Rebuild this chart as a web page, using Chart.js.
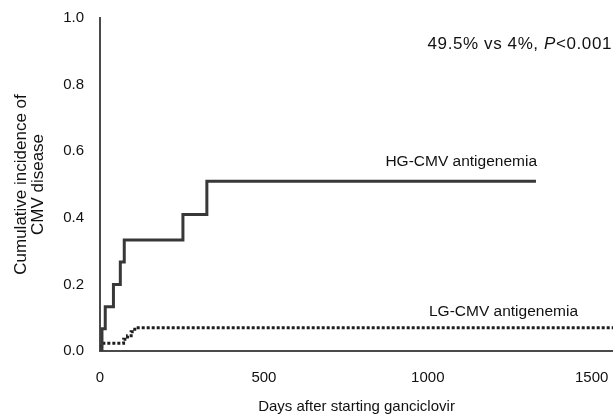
<!DOCTYPE html>
<html><head><meta charset="utf-8">
<script src="https://cdn.jsdelivr.net/npm/chart.js@4/dist/chart.umd.min.js"></script>
<style>html,body{margin:0;padding:0;background:#fff}#wrap{width:613px;height:420px}</style>
</head><body><div id="wrap"><canvas id="c" width="613" height="420"></canvas></div>
<script>
const HG_DAYS = [0, 6, 16, 41, 62, 74, 253, 326, 1330];
const HG_VALUES = [0, 0.067, 0.133, 0.2, 0.267, 0.333, 0.41, 0.51, 0.51];
const LG_DAYS = [0, 5, 72, 84, 95, 106, 1565];
const LG_VALUES = [0, 0.023, 0.035, 0.046, 0.058, 0.07, 0.07];
const X_TICKS = [0, 500, 1000, 1500];
const Y_TICKS = [0, 0.2, 0.4, 0.6, 0.8, 1.0];
const SERIES_NAMES = ['HG-CMV antigenemia', 'LG-CMV antigenemia'];
const X_TITLE = 'Days after starting ganciclovir';
const Y_TITLE = ['Cumulative incidence of', 'CMV disease'];
const ANNOTATION = [['49.5% vs 4%, ', false], ['P', true], ['<0.001', false]];

const FONT = '"Liberation Sans", Arial, Helvetica, sans-serif';
const TEXT_COLOR = '#111111';

const toPoints = (xs, ys) => xs.map((x, i) => ({x: x, y: ys[i]}));

const textPlugin = {
  id: 'texts',
  afterDraw(chart) {
    const ctx = chart.ctx;
    ctx.save();
    ctx.fillStyle = TEXT_COLOR;
    ctx.textBaseline = 'middle';
    ctx.font = '15.5px ' + FONT;
    ctx.textAlign = 'right';
    ctx.fillText(SERIES_NAMES[0], 537, 162);
    ctx.fillText(SERIES_NAMES[1], 578, 312);
    // annotation, right aligned
    ctx.letterSpacing = '0.6px';
    const fonts = ANNOTATION.map(p => (p[1] ? 'italic ' : '') + '17px ' + FONT);
    let total = 0;
    const widths = ANNOTATION.map((p, i) => { ctx.font = fonts[i]; const w = ctx.measureText(p[0]).width; total += w; return w; });
    let x = 612 - total;
    ctx.textAlign = 'left';
    ANNOTATION.forEach((p, i) => { ctx.font = fonts[i]; ctx.fillText(p[0], x, 44); x += widths[i]; });
    ctx.restore();
  }
};

new Chart(document.getElementById('c'), {
  type: 'line',
  data: {
    datasets: [
      {
        label: SERIES_NAMES[0],
        data: toPoints(HG_DAYS, HG_VALUES),
        stepped: true,
        borderColor: '#383838',
        borderWidth: 3,
        pointRadius: 0,
        fill: false
      },
      {
        label: SERIES_NAMES[1],
        data: toPoints(LG_DAYS, LG_VALUES),
        stepped: true,
        borderColor: '#1e1e1e',
        borderWidth: 3,
        borderDash: [3, 2],
        pointRadius: 0,
        fill: false
      }
    ]
  },
  options: {
    responsive: false,
    devicePixelRatio: 1,
    animation: false,
    layout: {padding: {top: 18, right: 0, bottom: 0, left: 0}},
    plugins: {legend: {display: false}, tooltip: {enabled: false}},
    scales: {
      x: {
        type: 'linear',
        min: 0,
        max: 1565,
        grid: {display: false, drawTicks: false},
        border: {display: true, color: '#4a4a4a', width: 2},
        afterBuildTicks: s => { s.ticks = X_TICKS.map(v => ({value: v})); },
        afterFit: s => { s.height = 69; s.paddingLeft = 0; s.paddingRight = 0; },
        ticks: {
          padding: 18,
          color: TEXT_COLOR,
          font: {family: FONT, size: 15},
          maxRotation: 0,
          autoSkip: false,
          callback: v => String(v)
        },
        title: {
          display: true,
          text: X_TITLE,
          color: TEXT_COLOR,
          font: {family: FONT, size: 15},
          padding: {top: 0, bottom: 4}
        }
      },
      y: {
        type: 'linear',
        min: 0,
        max: 1,
        grid: {display: false, drawTicks: false},
        border: {display: true, color: '#4a4a4a', width: 2},
        afterBuildTicks: s => { s.ticks = Y_TICKS.map(v => ({value: v})); },
        afterFit: s => { s.width = 100; s.paddingTop = 0; s.paddingBottom = 0; },
        ticks: {
          padding: 16,
          color: TEXT_COLOR,
          font: {family: FONT, size: 15},
          callback: v => Number(v).toFixed(1)
        },
        title: {
          display: true,
          text: Y_TITLE,
          color: TEXT_COLOR,
          font: {family: FONT, size: 17, lineHeight: 1.05},
          padding: {top: 12, bottom: 0}
        }
      }
    }
  },
  plugins: [textPlugin]
});
</script>
</body></html>
